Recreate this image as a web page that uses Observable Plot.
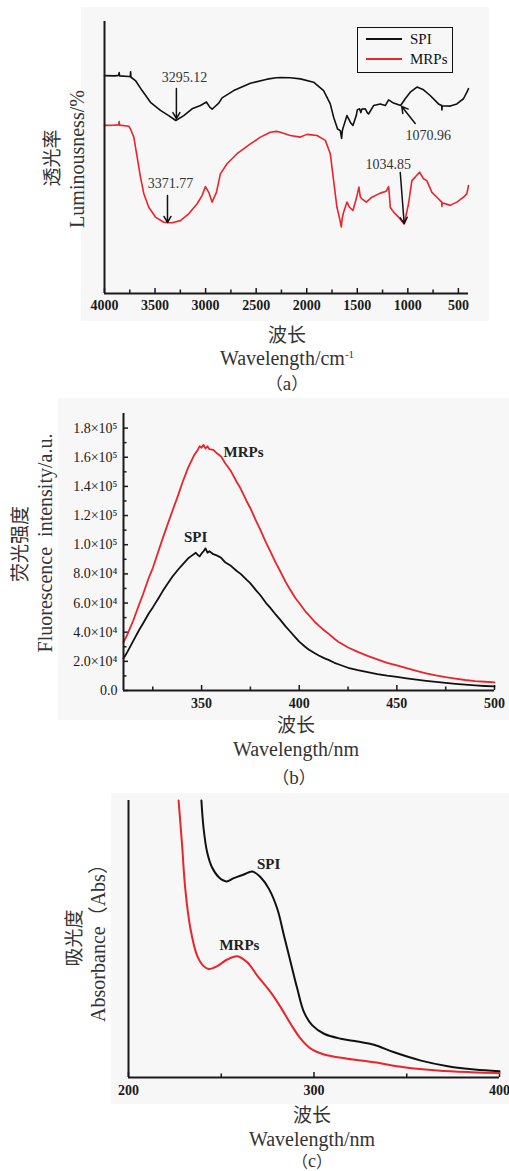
<!DOCTYPE html>
<html><head><meta charset="utf-8">
<script src="https://cdn.jsdelivr.net/npm/d3@7"></script>
<script src="https://cdn.jsdelivr.net/npm/@observablehq/plot@0.6"></script>
<style>
body{margin:0;background:#fff;}
#page{position:relative;width:509px;height:1171px;overflow:hidden;background:#fff;font-family:"Liberation Serif","Noto Sans CJK SC",serif;color:#222;}
.bg{position:absolute;background:#f7f7f7;}
.svgwrap{position:absolute;left:0;}
.t{position:absolute;transform:translate(-50%,-50%);white-space:nowrap;line-height:1;}
.r{transform:translate(-50%,-50%) rotate(-90deg);}
.cn{font-family:"Noto Sans CJK SC",sans-serif;}
.se{font-family:"Liberation Serif",serif;}
.xb g[aria-label="x-axis tick label"] text, .xb g[aria-label="x-axis tick label"]{font-weight:bold;}
</style></head><body><div id="page"></div>
<script>
// ================= DATA =================
// (a) FTIR spectra: wavenumber (cm-1) and relative transmittance (arbitrary units)
const ftirSpiWn = [4000,3900,3860,3855,3850,3760,3745,3742,3738,3694,3628,3545,3447,3365,3295,3216,3134,3051,2992,2959,2935,2920,2870,2837,2722,2557,2392,2300,2261,2162,2063,1932,1833,1767,1734,1695,1668,1655,1648,1641,1602,1569,1543,1510,1500,1477,1465,1454,1421,1400,1388,1339,1273,1223,1190,1141,1071,1026,976,910,845,779,697,665,663,660,581,515,450,416,400];
const ftirSpiT  = [80.1,80.0,80.2,81.2,80.0,79.8,79.7,81.5,79.5,78.3,74.6,70.3,67.3,65.4,63.6,65.4,67.9,69.1,70.4,68.5,67.8,68.3,70.0,71.9,74.6,77.3,78.8,79.3,79.4,79.3,78.9,77.7,74.6,69.7,64.8,60.5,59.9,57.0,59.8,60.8,65.4,63.0,61.8,65.4,67.5,67.9,66.5,67.8,67.9,66.4,66.0,69.1,69.7,69.1,71.2,70.0,69.1,71.6,74.0,75.9,74.9,72.8,69.7,69.1,67.5,69.0,68.9,69.7,71.6,74.0,75.3];
const ftirMrpWn = [4000,3900,3860,3855,3850,3760,3743,3710,3677,3644,3611,3562,3496,3414,3371,3331,3249,3167,3084,3035,3002,2969,2936,2893,2854,2788,2689,2557,2458,2360,2300,2261,2162,2063,1997,1898,1816,1767,1734,1701,1678,1658,1650,1635,1602,1576,1543,1510,1484,1470,1454,1411,1355,1273,1213,1190,1180,1174,1141,1092,1036,993,960,927,884,845,812,762,713,665,663,660,581,515,450,416,400];
const ftirMrpT  = [61.8,61.9,62.0,63.2,61.9,61.5,60.5,57.5,50.1,42.8,36.7,31.7,28.1,26.2,26.0,26.0,26.8,29.3,33.0,36.0,39.3,37.2,33.6,37.2,44.0,47.7,51.4,55.0,57.5,59.3,59.6,59.3,58.1,57.5,58.5,58.1,56.3,51.4,41.5,31.7,28.1,24.5,27.5,29.9,33.6,31.7,30.5,34.8,39.1,35.5,34.8,33.6,35.4,36.9,37.6,39.3,35.0,31.7,29.9,28.1,25.6,33.0,41.5,42.8,44.6,42.2,41.5,37.2,35.4,33.6,32.0,33.4,32.4,33.6,35.4,36.7,39.7];
const ftirTicks = [4000,3500,3000,2500,2000,1500,1000,500];
const ftirMinorTicks = [3750,3250,2750,2250,1750,1250,750];
const ftirPeakLabels  = ["3295.12","3371.77","1070.96","1034.85"];
const ftirPeakLabelWn = [3210,3348,798,1194];
const ftirPeakLabelT  = [79.4,40.4,58.1,47.4];
const ftirArrowFromWn = [3289,3377,927,1075];
const ftirArrowFromT  = [75.4,36.0,62.5,44.5];
const ftirArrowToWn   = [3289,3377,1060,1036];
const ftirArrowToT    = [64.3,26.1,68.75,25.7];

// (b) Fluorescence spectra: wavelength (nm) and intensity (a.u.)
const flMrpWl = [310,312,315,318,320,323,325,328,330,333,335,338,340,343,346,348,349,350,351,352,353,354,356,358,360,362,365,368,370,373,375,378,380,383,385,388,390,393,395,398,400,403,405,408,410,413,415,418,420,425,430,435,440,445,450,455,460,465,470,475,480,485,490,495,500];
const flMrpI  = [33000,38500,48000,59000,66000,77500,84000,96000,104000,115500,123000,134000,142000,152500,161000,165000,167500,166500,168500,166000,167500,165500,165000,162500,160500,156000,150500,143000,138500,130000,125000,116000,110500,101500,96000,87500,82500,74500,70000,63500,60000,54500,51500,47000,44500,41000,39000,35500,33500,29500,26500,23800,21400,19000,17200,15300,13400,11800,10300,9100,8100,7200,6500,6000,5600];
const flSpiWl = [310,312,315,318,320,323,325,328,330,333,335,338,340,343,345,347,348,349,350,351,352,353,354,356,358,360,362,365,368,370,373,375,378,380,383,385,388,390,393,395,398,400,403,405,408,410,413,415,418,420,425,430,435,440,445,450,455,460,465,470,475,480,485,490,495,500];
const flSpiI  = [22000,26500,34000,41500,46000,53000,57000,63500,68000,74000,78000,83000,86000,90500,92500,94500,93000,92000,94000,95500,97500,94500,95500,93500,92500,91000,88000,85500,82000,80000,76000,73500,68500,65500,60000,57000,52000,49000,44000,41000,36500,33500,30000,28000,25500,24000,22000,21000,19000,18000,15600,14000,12600,11300,10200,9300,8300,7400,6600,5900,5200,4600,4000,3500,3100,2800];
const flXTicks = [350,400,450,500];
const flXMinor = [325,375,425,475];
const flYTicks = [0,20000,40000,60000,80000,100000,120000,140000,160000,180000];
const flYMinor = [10000,30000,50000,70000,90000,110000,130000,150000,170000];
const flLabels = ["MRPs","SPI"];
const flLabelWl = [371.5,346.9];
const flLabelI  = [163400,105500];

// (c) UV absorbance: wavelength (nm) and absorbance (arbitrary units)
const uvSpiWl = [239.3,240.5,242.4,245,248.7,252.8,256.8,262.2,266.7,271.2,275.7,280.2,283.8,287.4,291,294.6,299.1,305.4,314.4,323.4,332.4,343.2,357.7,372.1,386.5,400];
const uvSpiA  = [100,89.8,81.3,75.9,72.3,70.8,72.0,73.3,74.4,72.3,68.1,60.9,51.3,41.6,32.0,23.6,18.8,15.8,14.0,13.0,11.8,9.1,6.1,4.1,2.9,2.3];
const uvMrpWl = [227,228.9,230.6,233.4,237,240.5,243.2,247.8,253.2,258.6,264,269.4,276.6,282,287.4,292.8,298.2,305.4,318,332.4,348.6,366.7,384.7,400];
const uvMrpA  = [100,83.8,68.1,53.7,44.0,40.2,39.2,40.2,42.6,43.8,41.6,36.8,30.8,25.4,19.4,14.0,10.4,8.3,6.8,5.5,3.7,2.5,1.9,1.6];
const uvXTicks = [200,300,400];
const uvXMinor = [250,350];
const uvLabels = ["SPI","MRPs"];
const uvLabelWl = [275.5,259.8];
const uvLabelA  = [76.9,47.7];

// ================= RENDER =================
const RED = "#e8252a", BLK = "#111";
const AX = "#1a1a1a";
const page = document.getElementById("page");
function addDiv(cls, css, html){const d=document.createElement("div");d.className=cls;d.style.cssText=css;d.innerHTML=html||"";page.appendChild(d);return d;}
function addPlot(svg, top){const w=document.createElement("div");w.className="svgwrap xb";w.style.top=top+"px";w.appendChild(svg);page.appendChild(w);}
const zip = (xs, ys) => xs.map((x,i)=>({x, y: ys[i]}));
const baseStyle = {background:"transparent", fontFamily:'"Liberation Serif","DejaVu Serif",serif', fontSize:"14px", color:AX, overflow:"visible"};
function boldX(svg){ svg.querySelectorAll('g[aria-label="x-axis tick label"] text').forEach(t=>t.setAttribute("font-weight","bold")); return svg; }

// ---------- Panel (a) ----------
addDiv("bg","left:81px;top:7px;width:408px;height:314px;");
{
  const L = {w:509,h:320,ml:104,mr:41,mt:21,mb:27};
  const yPerPx = 100/(L.h-L.mt-L.mb);
  const svg = Plot.plot({
    width:L.w, height:L.h, marginLeft:L.ml, marginRight:L.mr, marginTop:L.mt, marginBottom:L.mb,
    style: baseStyle,
    x:{domain:[4000,400], ticks:ftirTicks, tickFormat:"d", tickSize:0, tickPadding:7, label:null},
    y:{domain:[0,100], axis:null},
    marks:[
      Plot.ruleX(ftirTicks, {x:d=>d, y1:0, y2:5*yPerPx, stroke:AX, strokeWidth:1.5}),
      Plot.ruleX(ftirMinorTicks, {x:d=>d, y1:0, y2:3.5*yPerPx, stroke:AX, strokeWidth:1.5}),
      Plot.line(zip(ftirSpiWn, ftirSpiT), {x:"x", y:"y", stroke:BLK, strokeWidth:1.6}),
      Plot.line(zip(ftirMrpWn, ftirMrpT), {x:"x", y:"y", stroke:RED, strokeWidth:1.6}),
      Plot.arrow(ftirPeakLabels, {x1:(d,i)=>ftirArrowFromWn[i], y1:(d,i)=>ftirArrowFromT[i], x2:(d,i)=>ftirArrowToWn[i], y2:(d,i)=>ftirArrowToT[i], stroke:BLK, strokeWidth:1.5, headLength:7}),
      Plot.text(ftirPeakLabels, {x:(d,i)=>ftirPeakLabelWn[i], y:(d,i)=>ftirPeakLabelT[i], text:d=>d, fontSize:14, fill:"#333"}),
      Plot.ruleX([4000], {stroke:AX, strokeWidth:2}),
      Plot.ruleY([0], {stroke:AX, strokeWidth:2})
    ]
  });
  addPlot(boldX(svg), 0);
  // legend
  addDiv("", "position:absolute;left:357px;top:27px;width:96px;height:46px;box-sizing:border-box;border:1.5px solid #111;");
  addDiv("", `position:absolute;left:366px;top:38px;width:36px;height:2px;background:${BLK};`);
  addDiv("", `position:absolute;left:366px;top:58px;width:36px;height:2px;background:${RED};`);
  addDiv("", "position:absolute;left:410px;top:39px;transform:translateY(-50%);font-size:15px;line-height:1;color:#111;", "SPI");
  addDiv("", "position:absolute;left:410px;top:59px;transform:translateY(-50%);font-size:15px;line-height:1;color:#111;", "MRPs");
  // axis titles
  addDiv("t r cn", "left:50px;top:158px;font-size:19px;color:#333;", "透光率");
  addDiv("t r", "left:77px;top:159px;font-size:20px;color:#333;", "Luminousness/%");
  addDiv("t cn", "left:287px;top:333px;font-size:19px;color:#333;", "波长");
  addDiv("t", "left:287px;top:358px;font-size:20px;color:#333;", "Wavelength/cm<sup style='font-size:11px;vertical-align:7px'>-1</sup>");
  addDiv("t cn", "left:287px;top:383px;font-size:17px;color:#333;", "（<span class='se' style='font-size:19px'>a</span>）");
}

// ---------- Panel (b) ----------
addDiv("bg","left:58px;top:398px;width:451px;height:322px;");
{
  const L = {w:509,h:322,ml:123,mr:15,mt:15,mb:30};
  const yPerPx = 190000/(L.h-L.mt-L.mb);
  const xPerPx = 190/(L.w-L.ml-L.mr);
  const sup = {"0":"⁰","1":"¹","2":"²","3":"³","4":"⁴","5":"⁵","6":"⁶","7":"⁷","8":"⁸","9":"⁹"};
  const fmtSci = d => { if (d===0) return "0.0"; const e = Math.floor(Math.log10(d)+1e-9); return (d/10**e).toFixed(1)+"×10"+String(e).split("").map(c=>sup[c]).join(""); };
  const svg = Plot.plot({
    width:L.w, height:L.h, marginLeft:L.ml, marginRight:L.mr, marginTop:L.mt, marginBottom:L.mb,
    style: baseStyle,
    x:{domain:[310,500], ticks:flXTicks, tickFormat:"d", tickSize:0, tickPadding:8, label:null},
    y:{domain:[0,190000], ticks:flYTicks, tickFormat:fmtSci, tickSize:0, tickPadding:6, label:null},
    marks:[
      Plot.ruleX(flXTicks, {x:d=>d, y1:0, y2:5*yPerPx, stroke:AX, strokeWidth:1.5}),
      Plot.ruleX(flXMinor, {x:d=>d, y1:0, y2:3.5*yPerPx, stroke:AX, strokeWidth:1.5}),
      Plot.ruleY(flYTicks, {y:d=>d, x1:310, x2:310+5*xPerPx, stroke:AX, strokeWidth:1.5}),
      Plot.ruleY(flYMinor, {y:d=>d, x1:310, x2:310+3.5*xPerPx, stroke:AX, strokeWidth:1.5}),
      Plot.line(zip(flSpiWl, flSpiI), {x:"x", y:"y", stroke:BLK, strokeWidth:1.8}),
      Plot.line(zip(flMrpWl, flMrpI), {x:"x", y:"y", stroke:RED, strokeWidth:1.8}),
      Plot.text(flLabels, {x:(d,i)=>flLabelWl[i], y:(d,i)=>flLabelI[i], text:d=>d, fontSize:15, fontWeight:"bold", fill:"#222"}),
      Plot.ruleX([310], {stroke:AX, strokeWidth:2}),
      Plot.ruleY([0], {stroke:AX, strokeWidth:2})
    ]
  });
  addPlot(boldX(svg), 398);
  addDiv("t r cn", "left:18px;top:544px;font-size:19px;color:#333;", "荧光强度");
  addDiv("t r", "left:45px;top:543px;font-size:20px;color:#333;", "Fluorescence&nbsp; intensity/a.u.");
  addDiv("t cn", "left:296px;top:723px;font-size:19px;color:#333;", "波长");
  addDiv("t", "left:296px;top:749px;font-size:20px;color:#333;", "Wavelength/nm");
  addDiv("t cn", "left:294px;top:777px;font-size:17px;color:#333;", "（<span class='se' style='font-size:19px'>b</span>）");
}

// ---------- Panel (c) ----------
addDiv("bg","left:111px;top:793px;width:398px;height:311px;");
{
  const L = {w:509,h:312,ml:128,mr:10,mt:8,mb:27};
  const yPerPx = 100/(L.h-L.mt-L.mb);
  const svg = Plot.plot({
    width:L.w, height:L.h, marginLeft:L.ml, marginRight:L.mr, marginTop:L.mt, marginBottom:L.mb,
    style: baseStyle,
    x:{domain:[200,400], ticks:uvXTicks, tickFormat:"d", tickSize:0, tickPadding:8, label:null},
    y:{domain:[0,100], axis:null},
    marks:[
      Plot.ruleX(uvXTicks, {x:d=>d, y1:0, y2:5*yPerPx, stroke:AX, strokeWidth:1.5}),
      Plot.ruleX(uvXMinor, {x:d=>d, y1:0, y2:3.5*yPerPx, stroke:AX, strokeWidth:1.5}),
      Plot.line(zip(uvSpiWl, uvSpiA), {x:"x", y:"y", stroke:BLK, strokeWidth:2, curve:"catmull-rom"}),
      Plot.line(zip(uvMrpWl, uvMrpA), {x:"x", y:"y", stroke:RED, strokeWidth:2, curve:"catmull-rom"}),
      Plot.text(uvLabels, {x:(d,i)=>uvLabelWl[i], y:(d,i)=>uvLabelA[i], text:d=>d, fontSize:15, fontWeight:"bold", fill:"#222"}),
      Plot.ruleX([200], {stroke:AX, strokeWidth:2}),
      Plot.ruleY([0], {stroke:AX, strokeWidth:2})
    ]
  });
  addPlot(boldX(svg), 792);
  addDiv("t r cn", "left:72px;top:938px;font-size:19px;color:#333;", "吸光度");
  addDiv("t r", "left:97px;top:938px;font-size:20px;color:#333;", "Absorbance<span class='cn'>（</span>Abs<span class='cn'>）</span>");
  addDiv("t cn", "left:312px;top:1113px;font-size:19px;color:#333;", "波长");
  addDiv("t", "left:312px;top:1139px;font-size:20px;color:#333;", "Wavelength/nm");
  addDiv("t cn", "left:312px;top:1161px;font-size:16px;color:#333;", "（<span class='se' style='font-size:18px'>c</span>）");
}
</script></body></html>
